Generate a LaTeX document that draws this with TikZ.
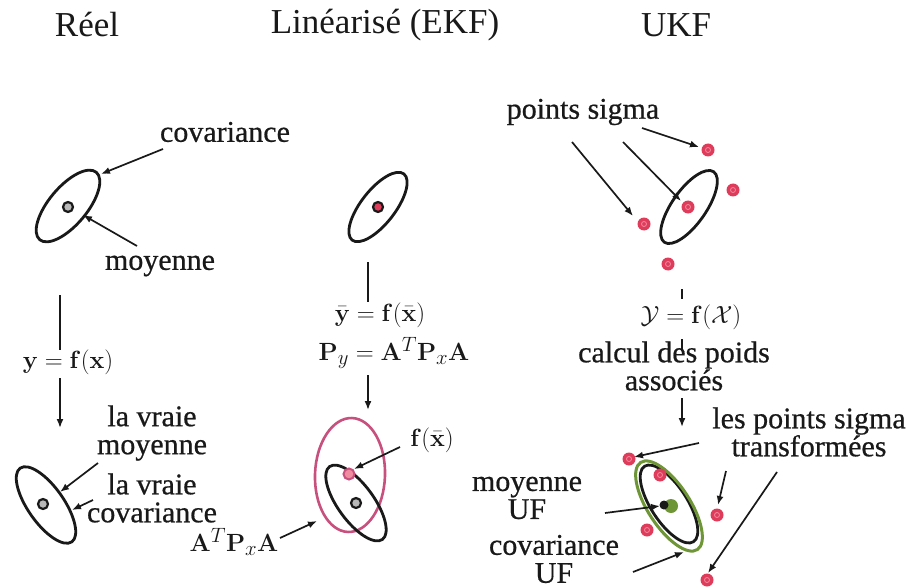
\documentclass[tikz,border=0pt]{standalone}
\usepackage[no-math]{fontspec}
\setmainfont{Liberation Serif}
\newfontfamily\bodyf{Liberation Serif}[FakeBold=0.6]
\usepackage{amsmath}
\usetikzlibrary{shapes.geometric,arrows.meta}
\definecolor{ink}{RGB}{25,25,25}
\definecolor{sig}{RGB}{222,60,90}
\definecolor{sigl}{RGB}{240,140,160}
\definecolor{pinkE}{RGB}{200,80,125}
\definecolor{greenE}{RGB}{110,150,55}
\begin{document}
\begin{tikzpicture}[x=1pt,y=1pt,
  txt/.style={font=\bodyf\fontsize{30}{28}\selectfont, inner sep=0pt, align=center, text=ink},
  ttl/.style={font=\rmfamily\fontsize{35}{38}\selectfont, inner sep=0pt, text=ink},
  mth/.style={font=\fontsize{30}{32}\selectfont, inner sep=0pt, text=ink},
  ell/.style={ellipse, draw=ink, line width=2.8pt, inner sep=0pt},
  arr/.style={-{Latex[length=9pt,width=7pt]}, line width=1.7pt, draw=ink},
  vline/.style={line width=1.5pt, draw=ink},
  pt/.style={circle, fill=sig, minimum size=13pt, inner sep=0pt,
    path picture={\draw[sigl, line width=0.8pt] (path picture bounding box.center) circle[radius=2.5pt];}},
  mdot/.style={circle, draw=ink, line width=2.2pt, fill=gray!55, minimum size=10pt, inner sep=0pt},
]
\useasboundingbox (0,0) rectangle (907,-588);
\fill[white] (0,0) rectangle (907,-588);

% titles
\node[ttl] (tR) at (87,-25) {Réel};
\node[ttl] (tE) at (385,-25) {Linéarisé (EKF)};
\node[ttl] (tU) at (676,-25) {UKF};

% ---------- column 1 : Reel
\node[ell, minimum width=88, minimum height=38, rotate=50] (e1) at (68,-206) {};
\node[mdot] (m1) at (68,-207) {};
\node[txt] (lcov) at (225,-132) {covariance};
\coordinate (a1s) at (163,-149); \coordinate (a1e) at (101,-174);
\draw[arr] (a1s) -- (a1e);
\node[txt] (lmoy) at (160,-266) {moyenne};
\coordinate (a2s) at (137,-246); \coordinate (a2e) at (83,-215);
\draw[arr] (a2s) -- (a2e);

\coordinate (v1a) at (60,-295); \coordinate (v1b) at (60,-350);
\coordinate (v1c) at (60,-378); \coordinate (v1d) at (60,-428);
\draw[vline] (v1a) -- (v1b);
\node[mth] (f1) at (68,-362) {$\mathbf{y}=\mathbf{f}(\mathbf{x})$};
\draw[arr] (v1c) -- (v1d);

\node[ell, minimum width=90, minimum height=36, rotate=-55] (e2) at (46,-505) {};
\node[mdot] (m2) at (43,-504) {};
\node[txt] (lvm) at (152,-433) {la vraie\\moyenne};
\coordinate (a3s) at (98,-463); \coordinate (a3e) at (60,-492);
\draw[arr] (a3s) -- (a3e);
\node[txt] (lvc) at (152,-498) {la vraie\\covariance};
\coordinate (a4s) at (93,-500); \coordinate (a4e) at (72,-510);
\draw[arr] (a4s) -- (a4e);

% ---------- column 2 : EKF
\node[ell, minimum width=84, minimum height=34, rotate=52] (e3) at (378,-207) {};
\node[mdot, fill=sig] (m3) at (378,-207) {};
\coordinate (v2a) at (368,-262); \coordinate (v2b) at (368,-302);
\draw[vline] (v2a) -- (v2b);
\node[mth] (f2) at (380,-315) {$\bar{\mathbf{y}}=\mathbf{f}(\bar{\mathbf{x}})$};
\node[mth] (f3) at (394,-353) {$\mathbf{P}_y=\mathbf{A}^T\mathbf{P}_x\mathbf{A}$};
\coordinate (v2c) at (368,-375); \coordinate (v2d) at (368,-410);
\draw[arr] (v2c) -- (v2d);
\node[ell, draw=pinkE, line width=2.6pt, minimum width=114, minimum height=70, rotate=88] (e4) at (350,-475) {};
\node[ell, minimum width=90, minimum height=36, rotate=-54] (e5) at (356,-503) {};
\node[mdot] (m5) at (356,-503) {};
\node[circle, draw=pinkE, line width=2pt, fill=sigl, minimum size=11pt, inner sep=0pt] (fx) at (349,-474) {};
\node[mth] (lfx) at (432,-440) {$\mathbf{f}(\bar{\mathbf{x}})$};
\coordinate (a5s) at (400,-447); \coordinate (a5e) at (354,-469);
\draw[arr] (a5s) -- (a5e);
\node[mth] (lapa) at (234,-542) {$\mathbf{A}^T\mathbf{P}_x\mathbf{A}$};
\coordinate (a6s) at (280,-538); \coordinate (a6e) at (317,-521);
\draw[arr] (a6s) -- (a6e);

% ---------- column 3 : UKF
\node[txt] (lps) at (583,-112) {points sigma};
\node[ell, minimum width=86, minimum height=34, rotate=55] (e6) at (689,-207) {};
\node[pt] (s0) at (688,-207) {};
\node[pt] (s1) at (708,-150) {};
\node[pt] (s2) at (733,-190) {};
\node[pt] (s3) at (644,-224) {};
\node[pt] (s4) at (668,-264) {};
\coordinate (b1s) at (642,-128); \coordinate (b1e) at (699,-147);
\coordinate (b2s) at (572,-142); \coordinate (b2e) at (633,-216);
\coordinate (b3s) at (623,-142); \coordinate (b3e) at (681,-201);
\draw[arr] (b1s) -- (b1e);
\draw[arr] (b2s) -- (b2e);
\draw[arr] (b3s) -- (b3e);

\coordinate (t1a) at (682,-289); \coordinate (t1b) at (682,-299);
\coordinate (t2a) at (682,-339); \coordinate (t2b) at (682,-351);
\draw[vline] (t1a) -- (t1b);
\draw[vline] (t2a) -- (t2b);
\node[mth] (f4) at (691,-317) {$\mathcal{Y}=\mathbf{f}(\mathcal{X})$};
\node[txt] (lcp) at (674,-366) {calcul des poids\\associés};
\coordinate (v3a) at (682,-398); \coordinate (v3b) at (682,-427);
\draw[arr] (v3a) -- (v3b);
\node[txt] (lpst) at (809,-432) {les points sigma\\transformées};

\node[ell, minimum width=90, minimum height=36, rotate=-57] (e8) at (669,-504) {};
\node[ell, draw=greenE, line width=3pt, minimum width=104, minimum height=42, rotate=-57] (e7) at (669,-506) {};
\node[pt] (u1) at (629,-459) {};
\node[pt] (u2) at (660,-475) {};
\node[pt] (u3) at (717,-515) {};
\node[pt] (u4) at (647,-530) {};
\node[pt] (u5) at (707,-580) {};
\node[circle, fill=greenE, minimum size=14pt, inner sep=0pt] (gm) at (671,-506) {};
\node[circle, fill=ink, minimum size=9pt, inner sep=0pt] (bm) at (664,-505) {};
\coordinate (c1s) at (699,-443); \coordinate (c1e) at (634,-457);
\coordinate (c2s) at (726,-471); \coordinate (c2e) at (718,-505);
\coordinate (c3s) at (777,-472); \coordinate (c3e) at (708,-573);
\draw[arr] (c1s) -- (c1e);
\draw[arr] (c2s) -- (c2e);
\draw[arr] (c3s) -- (c3e);

\node[txt] (lmu) at (527,-498) {moyenne\\UF};
\coordinate (c4s) at (605,-513); \coordinate (c4e) at (660,-506);
\draw[arr] (c4s) -- (c4e);
\node[txt] (lcu) at (554,-559) {covariance\\UF};
\coordinate (c5s) at (633,-572); \coordinate (c5e) at (684,-552);
\draw[arr] (c5s) -- (c5e);
\end{tikzpicture}
\end{document}
